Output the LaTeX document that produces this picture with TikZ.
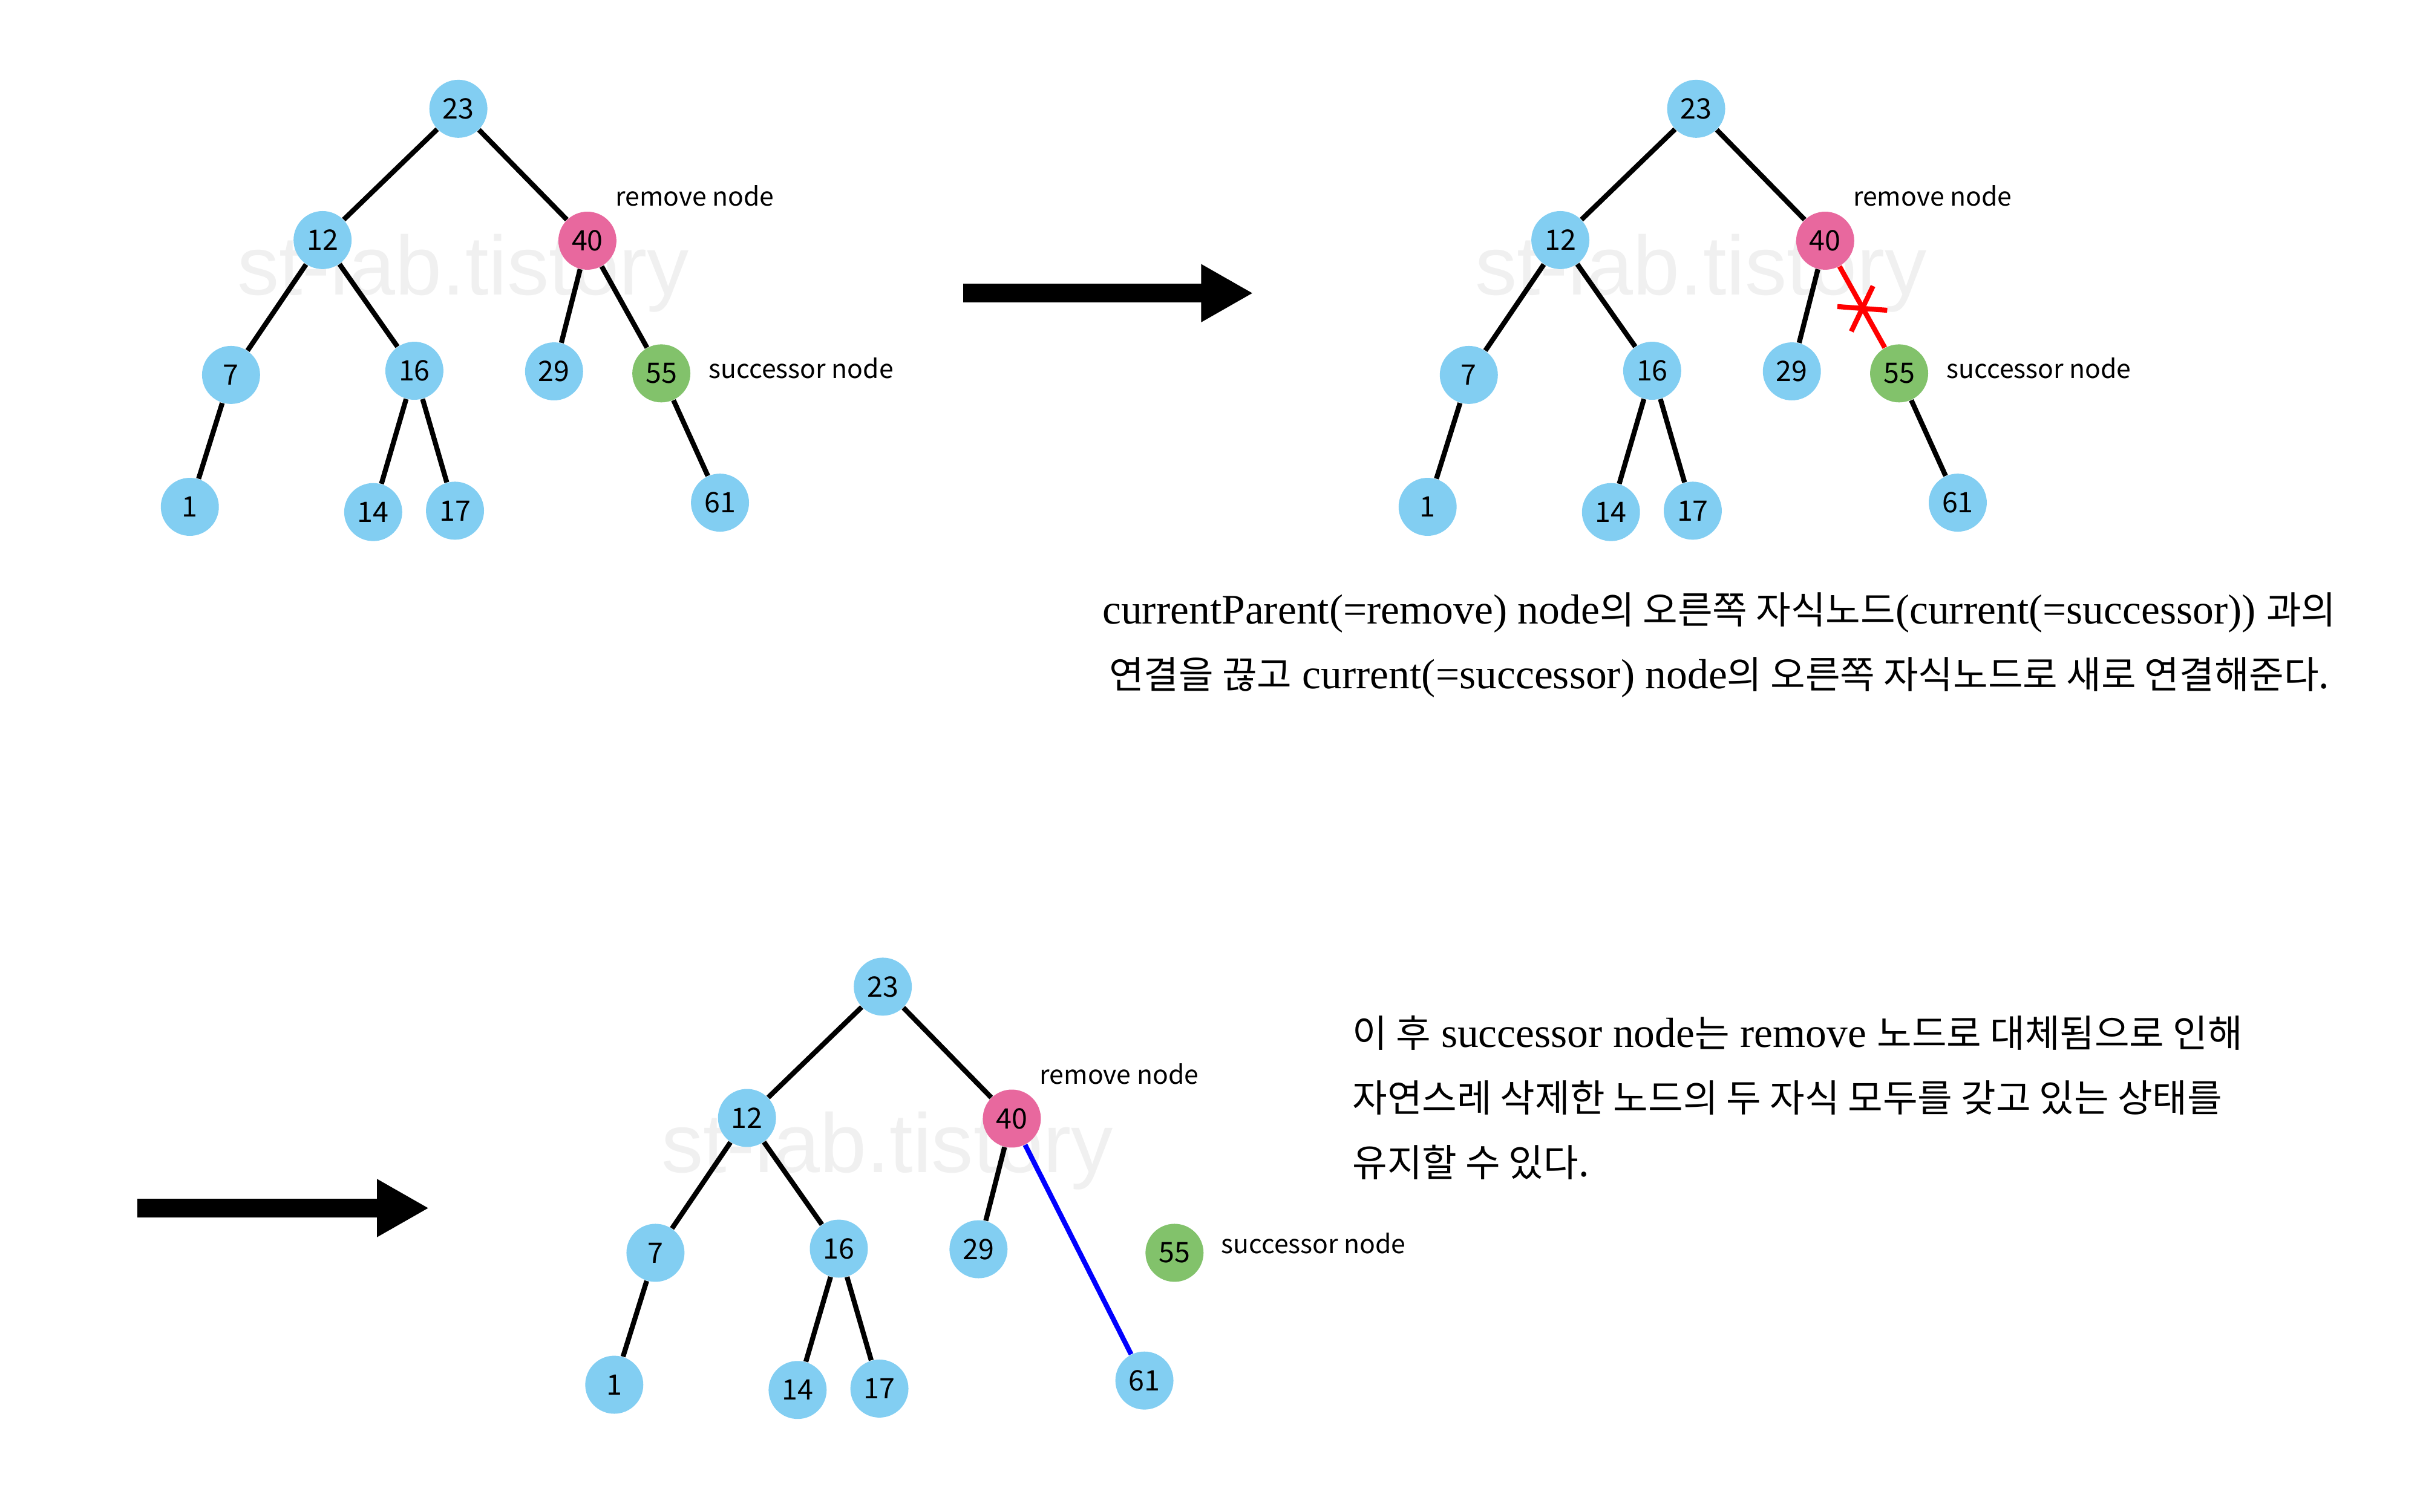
\documentclass[tikz,border=0pt]{standalone}
\usepackage{fontspec}
\setmainfont{Liberation Serif}
\newfontfamily\kr{Noto Sans CJK KR}
\newfontfamily\krtxt[Scale=0.9]{Noto Sans CJK KR}
\newfontfamily\wm{Liberation Sans}
\usepackage{xcolor}
\usetikzlibrary{arrows.meta}

\definecolor{keyblue}{RGB}{130,206,242}
\definecolor{removepink}{RGB}{232,104,158}
\definecolor{succgreen}{RGB}{130,194,107}

\begin{document}
\begin{tikzpicture}[
  x=0.025cm, y=-0.025cm,
  key/.style={circle, fill=keyblue, minimum size=0.94cm, inner sep=0pt, font=\kr\fontsize{13}{14}\selectfont},
  removekey/.style={key, fill=removepink},
  succkey/.style={key, fill=succgreen},
  link/.style={line width=2.3pt},
  cutlink/.style={link, red},
  newlink/.style={link, blue},
  tag/.style={anchor=west, inner sep=0pt, font=\kr\fontsize{11.9}{14}\selectfont},
  stamp/.style={text=black!6, font=\wm\fontsize{38.6}{40}\selectfont},
  bigarrow/.style={line width=8.5pt, -{Triangle[length=24pt, width=25pt]}},
  note/.style={inner sep=0pt, font=\fontsize{19.4}{29.8}\selectfont}
]
  \useasboundingbox (0,0) rectangle (1568,980);

  % Tree 1: remove node 40, successor 55
  \node[stamp] (wm1) at (300,177) {st-lab.tistory};
  \foreach \k/\x/\y in {23/297/70.5, 12/209/155.6, 7/149.7/243, 16/268.5/240.3, 29/359/240.7,
                        1/123/328.5, 14/241.8/331.9, 17/294.8/331, 61/466.5/325.8} {
    \node[key] (a\k) at (\x,\y) {\k};
  }
  \node[removekey] (a40) at (380.6,156) {40};
  \node[succkey] (a55) at (428.5,242) {55};
  \foreach \p/\c in {23/12, 23/40, 12/7, 12/16, 40/29, 40/55, 7/1, 16/14, 16/17, 55/61} {
    \draw[link] (a\p) -- (a\c);
  }
  \node[tag] (arm) at (398.5,127) {remove node};
  \node[tag] (asu) at (459,238.7) {successor node};

  % Arrow to tree 2
  \coordinate (go1s) at (624,190);
  \coordinate (go1e) at (812,190);
  \draw[bigarrow] (go1s) -- (go1e);

  % Tree 2: cut the link 40 -- 55
  \begin{scope}[shift={(802,0)}]
    \node[stamp] (wm2) at (300,177) {st-lab.tistory};
    \foreach \k/\x/\y in {23/297/70.5, 12/209/155.6, 7/149.7/243, 16/268.5/240.3, 29/359/240.7,
                          1/123/328.5, 14/241.8/331.9, 17/294.8/331, 61/466.5/325.8} {
      \node[key] (b\k) at (\x,\y) {\k};
    }
    \node[removekey] (b40) at (380.6,156) {40};
    \node[succkey] (b55) at (428.5,242) {55};
    \foreach \p/\c in {23/12, 23/40, 12/7, 12/16, 40/29, 7/1, 16/14, 16/17, 55/61} {
      \draw[link] (b\p) -- (b\c);
    }
    \draw[cutlink] (b40) -- (b55);
    % cross mark on the cut link
    \draw[red, line width=2.3pt] (388.5,198.7) -- (420.8,201.1);
    \draw[red, line width=2.3pt] (411.6,185.4) -- (397.5,214.8);
    \node[tag] (brm) at (398.5,127) {remove node};
    \node[tag] (bsu) at (459,238.7) {successor node};
  \end{scope}

  % Explanation of step 2
  \node[note, align=center] (txt1) at (1114,418) {%
    currentParent(=remove) node{\krtxt 의 오른쪽 자식노드}(current(=successor)) {\krtxt 과의}\\
    {\krtxt 연결을 끊고} current(=successor) node{\krtxt 의 오른쪽 자식노드로 새로 연결해준다.}};

  % Arrow to tree 3
  \coordinate (go2s) at (89,783);
  \coordinate (go2e) at (278,783);
  \draw[bigarrow] (go2s) -- (go2e);

  % Tree 3: 40 now links to 61, 55 stands alone
  \begin{scope}[shift={(275,569)}]
    \node[stamp] (wm3) at (300,177) {st-lab.tistory};
    \foreach \k/\x/\y in {23/297/70.5, 12/209/155.6, 7/149.7/243, 16/268.5/240.3, 29/359/240.7,
                          1/123/328.5, 14/241.8/331.9, 17/294.8/331, 61/466.5/325.8} {
      \node[key] (c\k) at (\x,\y) {\k};
    }
    \node[removekey] (c40) at (380.6,156) {40};
    \node[succkey] (c55) at (486,243) {55};
    \foreach \p/\c in {23/12, 23/40, 12/7, 12/16, 40/29, 7/1, 16/14, 16/17} {
      \draw[link] (c\p) -- (c\c);
    }
    \draw[newlink] (c40) -- (c61);
    \node[tag] (crm) at (398.5,127) {remove node};
    \node[tag] (csu) at (516,237) {successor node};
  \end{scope}

  % Explanation of step 3
  \node[note, align=left, anchor=west] (txt2) at (876,711.5) {%
    {\krtxt 이 후} successor node{\krtxt 는} remove {\krtxt 노드로 대체됨으로 인해}\\
    {\krtxt 자연스레 삭제한 노드의 두 자식 모두를 갖고 있는 상태를}\\
    {\krtxt 유지할 수 있다.}};
\end{tikzpicture}
\end{document}
